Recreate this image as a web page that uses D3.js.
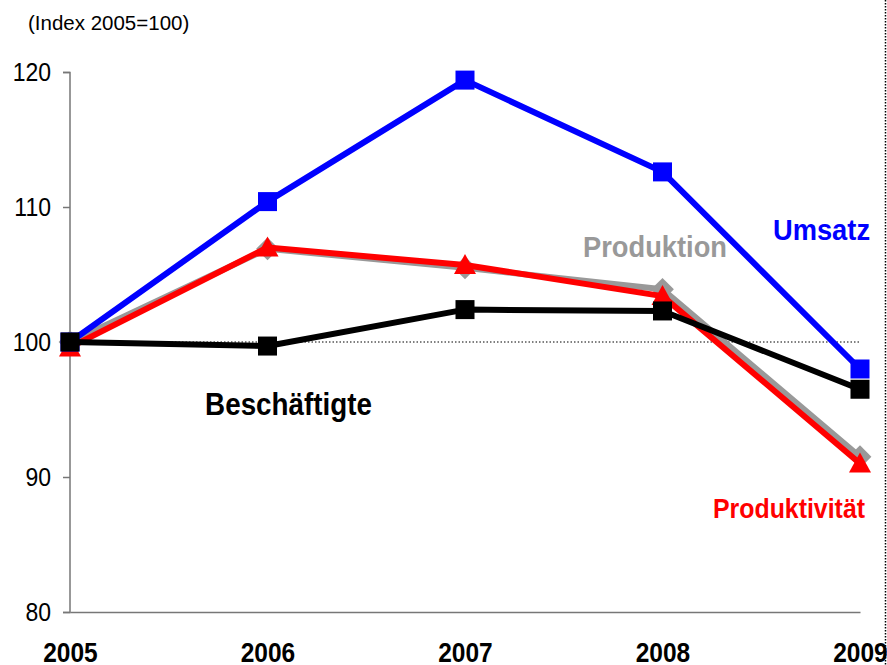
<!DOCTYPE html>
<html><head><meta charset="utf-8">
<script src="https://cdn.jsdelivr.net/npm/d3@7"></script>
<style>body{margin:0;background:#fff}svg{display:block;font-family:"Liberation Sans",Arial,sans-serif}</style>
</head><body>
<script>
const years = ["2005","2006","2007","2008","2009"];
const umsatz = [100, 110.4, 119.4, 112.6, 98.0];
const produktion = [100, 106.9, 105.5, 103.9, 91.5];
const produktivitaet = [99.6, 107.0, 105.7, 103.4, 91.0];
const beschaeftigte = [100, 99.7, 102.4, 102.3, 96.5];
const yTicks = [80, 90, 100, 110, 120];
const seriesNames = ["Produktion","Produktivität","Umsatz","Beschäftigte"];

const W = 887, H = 665;
const svg = d3.select("body").append("svg").attr("width", W).attr("height", H);
const x = d3.scalePoint().domain(years).range([70, 860]);
const y = d3.scaleLinear().domain([80, 120]).range([612, 72]);

// frame dotted right edge
svg.append("line").attr("x1", 885.5).attr("x2", 885.5).attr("y1", 0).attr("y2", H)
  .attr("stroke", "#000").attr("stroke-width", 1.5).attr("stroke-dasharray", "1.5,1.5");

// title
svg.append("text").attr("x", 28).attr("y", 30).attr("font-size", 20.5).attr("fill", "#000")
  .text("(Index 2005=100)");

// y axis
const yAxis = d3.axisLeft(y).tickValues(yTicks).tickSize(7).tickPadding(12).tickFormat(d3.format("d"));
const gy = svg.append("g").attr("transform", "translate(70,0)").call(yAxis);
gy.select(".domain").attr("stroke", "#777").attr("stroke-width", 1.5).attr("d", "M-7,72.5H0V612.5H-7");
gy.selectAll(".tick line").attr("stroke", "#777").attr("stroke-width", 1.5);
gy.selectAll(".tick text").attr("font-size", 23).attr("fill", "#000")
  .attr("font-family", "'Liberation Sans',Arial,sans-serif")
  .attr("dy", null)
  .each(function(d){ d3.select(this).attr("transform", "translate(0,8) scale(1,1.12)"); });

// x axis
const xAxis = d3.axisBottom(x).tickSize(0).tickPadding(0);
const gx = svg.append("g").attr("transform", "translate(0,612)").call(xAxis);
gx.select(".domain").attr("stroke", "#777").attr("stroke-width", 1.5);
gx.selectAll(".tick text").attr("font-size", 24.5).attr("font-weight", "bold").attr("fill", "#000")
  .attr("font-family", "'Liberation Sans',Arial,sans-serif")
  .attr("dy", null).attr("y", 0)
  .attr("transform", "translate(0,50) scale(1,1.14)");

// dotted 100 line
svg.append("line").attr("x1", x("2005")).attr("x2", x("2009")).attr("y1", y(100)).attr("y2", y(100))
  .attr("stroke", "#000").attr("stroke-width", 1).attr("stroke-dasharray", "1.5,2");

const line = d3.line().x((d, i) => x(years[i])).y(d => y(d));

function drawSeries(vals, color, marker, lineColor) {
  svg.append("path").datum(vals).attr("d", line).attr("fill", "none")
    .attr("stroke", lineColor || color).attr("stroke-width", 6).attr("stroke-linejoin", "round");
  const g = svg.append("g");
  vals.forEach((v, i) => {
    const cx = x(years[i]), cy = y(v);
    if (marker === "square") {
      g.append("rect").attr("x", cx - 9.5).attr("y", cy - 9.5).attr("width", 19).attr("height", 19).attr("fill", color);
    } else if (marker === "diamond") {
      g.append("path").attr("d", d3.symbol(d3.symbolSquare, 260)()).attr("transform", `translate(${cx},${cy}) rotate(45)`).attr("fill", color);
    } else if (marker === "triangle") {
      g.append("path").attr("d", `M${cx},${cy - 11}L${cx + 11},${cy + 9}L${cx - 11},${cy + 9}Z`).attr("fill", color);
    }
  });
}

drawSeries(produktion, "#999999", "diamond");
drawSeries(produktivitaet, "#ff0000", "triangle");
drawSeries(umsatz, "#0000ff", "square");
drawSeries(beschaeftigte, "#000000", "square");

// labels
function label(txt, cx, baseline, size, color) {
  svg.append("text").attr("text-anchor", "middle").attr("font-weight", "bold")
    .attr("font-size", size).attr("fill", color)
    .attr("transform", `translate(${cx},${baseline}) scale(1,1.1)`).text(txt);
}
label(seriesNames[2], 821.5, 240, 27.3, "#0000ff");
label(seriesNames[0], 655, 257, 27.3, "#999999");
label(seriesNames[3], 288.5, 415, 27.8, "#000000");
label(seriesNames[1], 789, 518, 24.9, "#ff0000");
</script>
</body></html>
